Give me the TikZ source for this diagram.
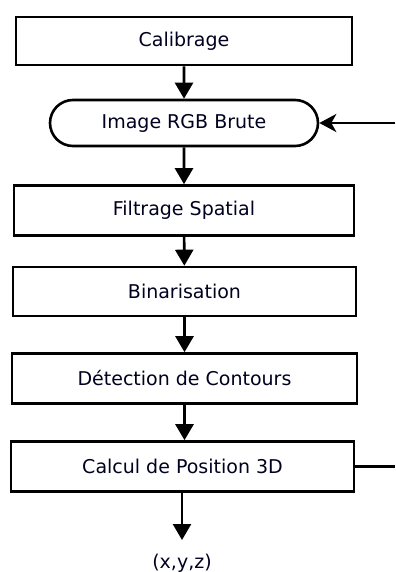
\documentclass[tikz,border=0pt]{standalone}
\usepackage{fontspec}
\setmainfont{DejaVu Sans}
\usetikzlibrary{arrows.meta,shapes.misc}

\begin{document}
\begin{tikzpicture}[x=1bp,y=-1bp,>={Triangle[width=18bp,length=16bp]}]

% colors and styles
\colorlet{cText}{black!88!blue}
\tikzset{
  etape/.style={draw,line width=2.6bp,minimum height=50bp,inner sep=0pt,
    text=cText,font=\fontsize{19bp}{22bp}\selectfont},
  entree/.style={etape,rounded rectangle,minimum height=46bp},
  fleche/.style={->,line width=2.6bp}
}

\useasboundingbox (0,0) rectangle (395,572);

% processing steps
\node[etape,minimum width=336bp,minimum height=48bp] (calib) at (184,41) {Calibrage};
\node[entree,minimum width=268bp] (image) at (184,123) {Image RGB Brute};
\node[etape,minimum width=340bp] (filtre) at (184,210.5) {Filtrage Spatial};
\node[etape,minimum width=343bp,minimum height=49bp] (binar) at (184.5,291.5) {Binarisation};
\node[etape,minimum width=345bp] (contour) at (184.5,378.5) {Détection de Contours};
\node[etape,minimum width=343bp] (calcul) at (182.5,466.5) {Calcul de Position 3D};

% result
\node[text=cText,font=\fontsize{19bp}{22bp}\selectfont] (xyz) at (182,563) {(x,y,z)};

% loop ends at the right border
\coordinate (retour) at (395,123);
\coordinate (sortie) at (395,466.5);
\coordinate (fin) at (182,540);

% arrows
\draw[fleche] (calib) -- (image);
\draw[fleche] (image) -- (image |- filtre.north);
\draw[fleche] (filtre) -- (binar);
\draw[fleche] (binar) -- (contour);
\draw[fleche] (contour.south) -- (contour.south |- calcul.north);
\draw[fleche] (calcul.south -| fin) -- (fin);
\draw[line width=2.6bp,-{Stealth[width=18bp,length=17bp,inset=5bp]}] (retour) -- (image.east);
\draw[line width=2.6bp] (calcul.east) -- (sortie);

\end{tikzpicture}
\end{document}
